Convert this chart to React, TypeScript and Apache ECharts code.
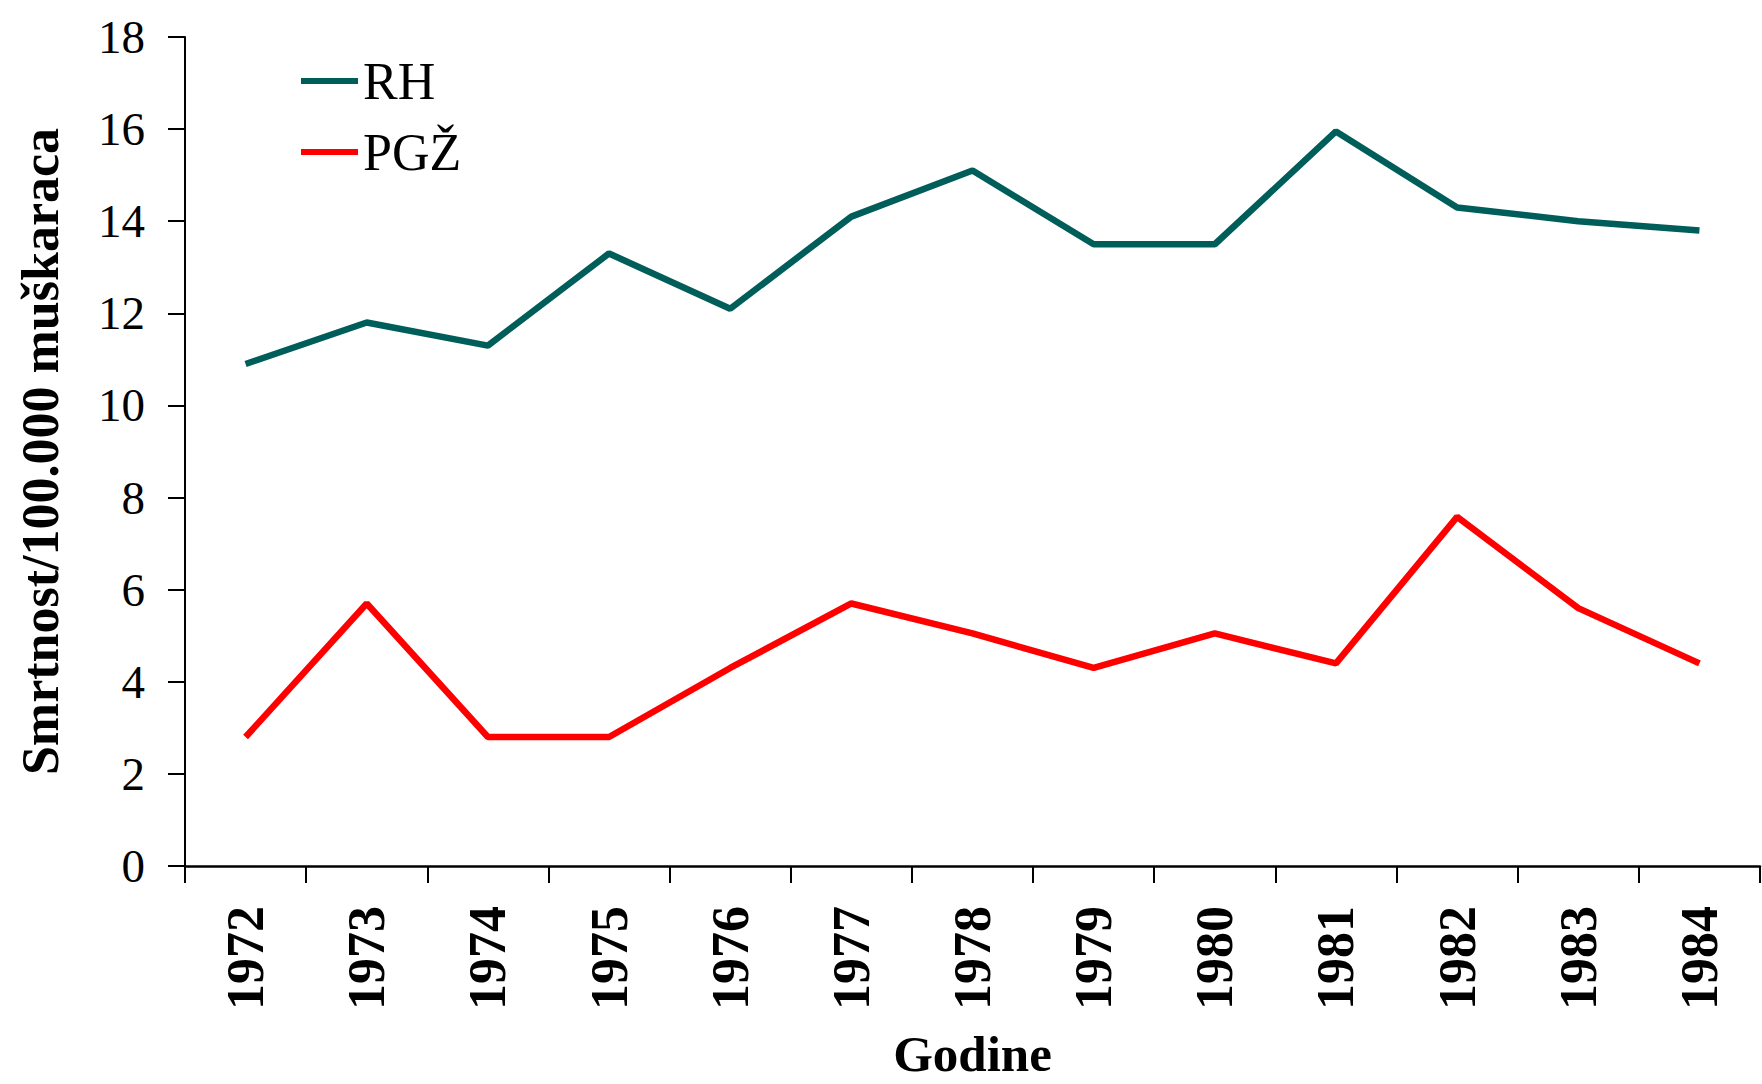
import React, { useEffect, useRef } from "react";
import * as echarts from "echarts";

const years = ["1972", "1973", "1974", "1975", "1976", "1977", "1978", "1979", "1980", "1981", "1982", "1983", "1984"];
const rhValues = [10.9, 11.8, 11.3, 13.3, 12.1, 14.1, 15.1, 13.5, 13.5, 15.95, 14.3, 14.0, 13.8];
const pgzValues = [2.8, 5.7, 2.8, 2.8, 4.3, 5.7, 5.05, 4.3, 5.05, 4.4, 7.58, 5.6, 4.4];
const seriesNames = ["RH", "PGŽ"];
const seriesColors = ["#005E5A", "#FF0000"];

const FONT = "'Liberation Serif', 'Times New Roman', serif";

export default function App() {
  const ref = useRef<HTMLDivElement>(null);
  useEffect(() => {
    if (!ref.current) return;
    const chart = echarts.init(ref.current, undefined, { renderer: "svg" });
    chart.setOption({
      animation: false,
      backgroundColor: "#ffffff",
      grid: { left: 185, right: 2, top: 37, bottom: 218, containLabel: false, outerBoundsMode: "none" },
      legend: {
        show: true,
        orient: "vertical",
        left: 296,
        top: 50,
        itemWidth: 57,
        itemHeight: 6,
        itemGap: 19,
        icon: "rect",
        data: seriesNames,
        textStyle: { fontFamily: FONT, fontSize: 52, color: "#000", lineHeight: 50 },
      },
      xAxis: {
        type: "category",
        data: years,
        boundaryGap: true,
        name: "Godine",
        nameLocation: "middle",
        nameGap: 162,
        nameTextStyle: { fontFamily: FONT, fontSize: 51, fontWeight: "bold", color: "#000", lineHeight: 51 },
        axisLine: { show: true, lineStyle: { color: "#000", width: 2.5 } },
        axisTick: { show: true, length: 17, lineStyle: { color: "#000", width: 2 } },
        axisLabel: {
          rotate: 90,
          margin: 40,
          fontFamily: FONT,
          fontSize: 52,
          fontWeight: "bold",
          color: "#000",
          interval: 0,
        },
        splitLine: { show: false },
      },
      yAxis: {
        type: "value",
        min: 0,
        max: 18,
        interval: 2,
        name: "Smrtnost/100.000 muškaraca",
        nameLocation: "middle",
        nameGap: 119,
        nameRotate: 90,
        nameTextStyle: { fontFamily: FONT, fontSize: 52, fontWeight: "bold", color: "#000" },
        axisLine: { show: true, lineStyle: { color: "#000", width: 2 } },
        axisTick: { show: true, length: 17, lineStyle: { color: "#000", width: 2 } },
        axisLabel: { margin: 40, fontFamily: FONT, fontSize: 47, color: "#000" },
        splitLine: { show: false },
      },
      series: [
        {
          name: seriesNames[0],
          type: "line",
          data: rhValues,
          symbol: "none",
          lineStyle: { color: seriesColors[0], width: 6.5 },
          itemStyle: { color: seriesColors[0] },
        },
        {
          name: seriesNames[1],
          type: "line",
          data: pgzValues,
          symbol: "none",
          lineStyle: { color: seriesColors[1], width: 6.5 },
          itemStyle: { color: seriesColors[1] },
        },
      ],
    });
    return () => chart.dispose();
  }, []);
  return (
    <div
      ref={ref}
      style={{ position: "absolute", left: 0, top: 0, width: 1762, height: 1084, background: "#fff" }}
    />
  );
}
